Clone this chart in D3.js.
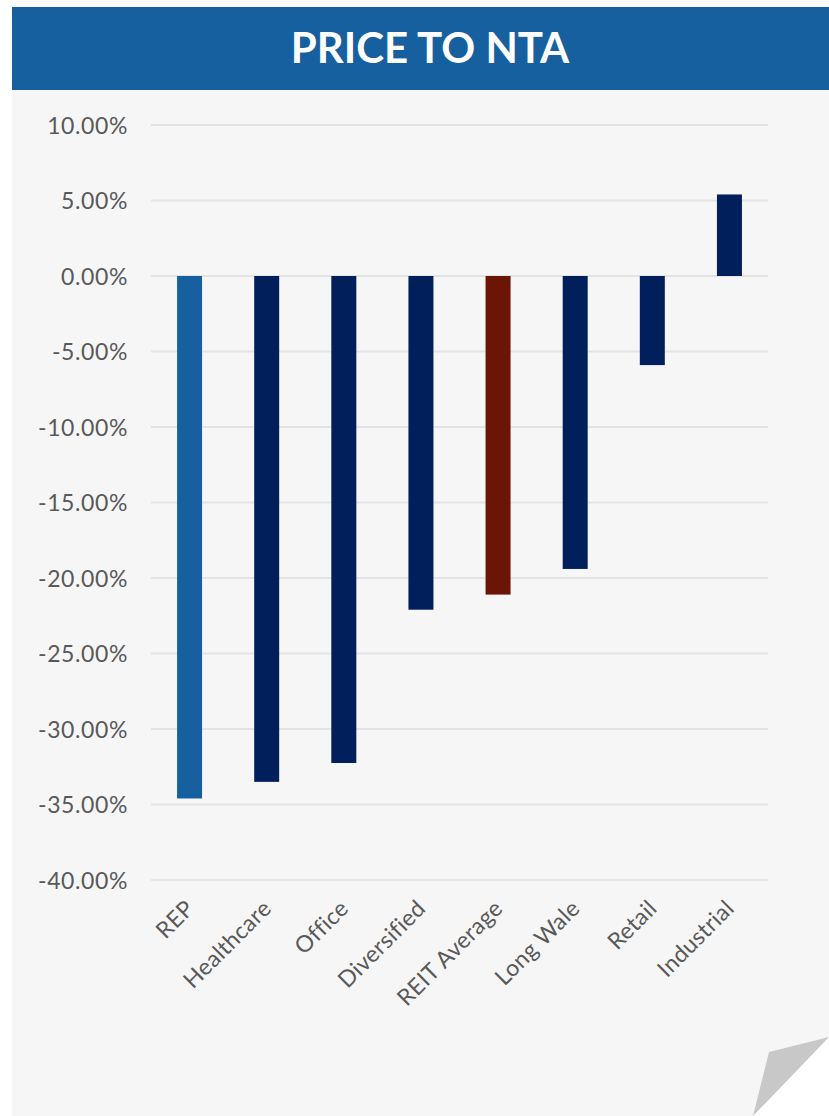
<!DOCTYPE html>
<html>
<head>
<meta charset="utf-8">
<script src="https://cdn.jsdelivr.net/npm/d3@7"></script>
<style>
  html, body { margin: 0; padding: 0; background: #ffffff; }
  svg { display: block; }
</style>
</head>
<body>
<svg id="chart" width="829" height="1116"></svg>
<script>
// Price to NTA by REIT sector
const categories = ["REP", "Healthcare", "Office", "Diversified", "REIT Average", "Long Wale", "Retail", "Industrial"];
const values = [-34.6, -33.5, -32.25, -22.1, -21.1, -19.4, -5.9, 5.4];
const barColors = ["#1660a0", "#001f5b", "#001f5b", "#001f5b", "#6b1506", "#001f5b", "#001f5b", "#001f5b"];
const yTicks = [10, 5, 0, -5, -10, -15, -20, -25, -30, -35, -40];
const title = "PRICE TO NTA";

const svg = d3.select("#chart");
const W = 829, H = 1116;
const font = "Lato, 'Open Sans', sans-serif";

// panel and header
svg.append("rect").attr("x", 12).attr("y", 89).attr("width", W - 12).attr("height", H - 89).attr("fill", "#f6f6f6");
svg.append("rect").attr("x", 12).attr("y", 7).attr("width", W - 12).attr("height", 83).attr("fill", "#1660a0");
svg.append("text")
  .attr("x", 430).attr("y", 63)
  .attr("text-anchor", "middle")
  .attr("fill", "#ffffff")
  .attr("font-family", font)
  .attr("font-weight", 700)
  .attr("font-size", 42)
  .text(title);

// scales
const x = d3.scaleBand().domain(categories).range([151, 768]).paddingInner(0.676).paddingOuter(0.338);
const y = d3.scaleLinear().domain([-40, 10]).range([880, 125]);

// gridlines
svg.append("g").selectAll("line").data(yTicks).join("line")
  .attr("x1", 151).attr("x2", 768)
  .attr("y1", d => y(d)).attr("y2", d => y(d))
  .attr("stroke", "#e3e3e3").attr("stroke-width", 2);

// y axis labels
const pct = d => (d < 0 ? "-" : "") + Math.abs(d).toFixed(2) + "%";
const yAxis = d3.axisLeft(y).tickValues(yTicks).tickSize(0).tickPadding(0).tickFormat(pct);
const gy = svg.append("g").attr("transform", "translate(128,0)").call(yAxis);
gy.select(".domain").remove();
gy.selectAll("text")
  .attr("fill", "#595959")
  .attr("font-family", font)
  .attr("font-size", 23)
  .attr("letter-spacing", 0.6)
  .attr("dy", "0.35em");

// bars
svg.append("g").selectAll("rect").data(categories).join("rect")
  .attr("x", d => x(d))
  .attr("width", x.bandwidth())
  .attr("y", (d, i) => y(Math.max(0, values[i])))
  .attr("height", (d, i) => Math.abs(y(values[i]) - y(0)))
  .attr("fill", (d, i) => barColors[i]);

// x axis labels, rotated
const xAxis = d3.axisBottom(x).tickSize(0).tickPadding(0);
const gx = svg.append("g").attr("transform", "translate(0,896)").call(xAxis);
gx.select(".domain").remove();
gx.selectAll("text")
  .attr("fill", "#595959")
  .attr("font-family", font)
  .attr("font-size", 23)
  .attr("letter-spacing", 0.3)
  .attr("text-anchor", "end")
  .attr("dx", "0")
  .attr("dy", "0")
  .attr("transform", "translate(6,14) rotate(-45)");

// page curl
svg.append("polygon").attr("points", "829,1037 829,1116 753,1116").attr("fill", "#ffffff");
svg.append("polygon").attr("points", "769,1052 829,1037 753,1116").attr("fill", "#c8c8c8");
</script>
</body>
</html>
